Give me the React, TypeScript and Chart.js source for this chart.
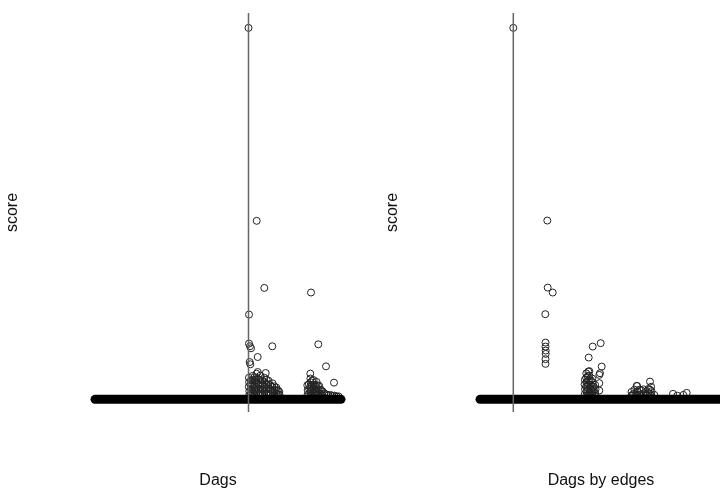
import React, { useEffect, useRef } from "react";
import { Chart, registerables } from "chart.js";
Chart.register(...registerables);

// shared score axis limits
const Y_MIN = -3.4;
const Y_MAX = 104;

// ---------- Left panel: "Dags" ----------
const dagsRange = [-16.35, 10.25];
const dagsZeroBand = [-15.35, 9.25]; // x-extent of the dense score = 0 band
const dagsX = [
  0, 0.82, 1.58, 6.25, 0.05, 6.98, 0.05, 0.15, 2.38, 0.25, 0.92, 0.12, 0.18, 7.75, 6.18, 0.92, 1.72, 8.55,
  0.05, 0.08, 0.03, 0.06, 0.04,
  0.4, 0.42, 0.38, 0.41, 0.39,
  0.8, 0.82, 0.78, 0.81, 0.79, 0.8,
  1.2, 1.22, 1.18, 1.21, 1.19,
  1.6, 1.62, 1.58, 1.61, 1.59,
  2.0, 2.02, 1.98, 2.01,
  2.4, 2.42, 2.38, 2.41,
  2.8, 2.82, 2.78,
  3.1, 3.08,
  0.22, 0.25, 0.2, 0.24, 0.6, 0.62, 0.58, 0.61, 0.59, 1.0, 1.02, 0.98, 1.01, 1.4, 1.42, 1.38, 1.41,
  1.8, 1.82, 1.78, 1.81, 2.2, 2.22, 2.18, 2.6, 2.62, 2.58, 2.95, 2.97,
  5.9, 5.92, 5.88,
  6.2, 6.22, 6.18, 6.21, 6.19,
  6.5, 6.52, 6.48, 6.51,
  6.8, 6.82, 6.78, 6.81,
  7.1, 7.12, 7.08,
  7.4, 7.42,
  6.05, 6.07, 6.03, 6.35, 6.37, 6.33, 6.36, 6.65, 6.67, 6.63, 6.95, 6.97, 6.93, 7.25, 7.27,
  7.6, 7.8, 8.0, 8.2, 8.4, 8.6, 8.8, 9.0,
];
const dagsY = [
  100, 48.06, 30.0, 28.76, 22.83, 14.82, 15.01, 14.29, 14.29, 13.75, 11.4, 10.05, 9.43, 8.89, 6.93, 7.36, 7.09, 4.5,
  1.0, 2.2, 3.4, 4.6, 5.8,
  1.6, 2.8, 4.0, 5.2, 6.3,
  1.0, 2.2, 3.4, 4.6, 5.8, 6.9,
  1.6, 2.8, 4.0, 5.2, 6.4,
  1.0, 2.2, 3.4, 4.6, 5.8,
  1.6, 2.8, 4.0, 5.0,
  1.0, 2.2, 3.3, 4.3,
  1.4, 2.5, 3.2,
  1.2, 2.0,
  1.4, 2.6, 3.9, 5.1, 1.1, 2.3, 3.6, 4.9, 6.0, 1.5, 2.9, 4.2, 5.4, 1.2, 2.5, 3.8, 5.0,
  1.6, 2.9, 4.1, 5.3, 1.3, 2.6, 3.8, 1.1, 2.4, 3.5, 1.4, 2.4,
  1.2, 2.5, 3.8,
  1.0, 2.2, 3.4, 4.6, 5.6,
  1.6, 2.8, 4.0, 5.2,
  1.0, 2.2, 3.4, 4.7,
  1.5, 2.6, 3.6,
  1.1, 2.1,
  1.5, 2.8, 4.1, 1.2, 2.5, 3.8, 5.0, 1.4, 2.7, 3.9, 1.2, 2.6, 3.8, 1.3, 2.5,
  1.6, 1.3, 1.1, 1.2, 0.9, 1.0, 0.8, 0.8,
];

// ---------- Right panel: "Dags by edges" ----------
const edgesRange = [-4.33, 21.87];
const edgesZeroBand = [-3.33, 20.87];
const edgesX = [
  0, 3.4, 3.44, 3.94, 3.2, 3.22, 3.22, 3.24, 3.24, 3.22, 3.22, 7.94, 8.74, 7.54, 8.84, 8.6, 7.5, 8.67, 8.6, 8.6, 13.67, 12.34,
  7.3, 7.32, 7.28, 7.31, 7.29, 7.3,
  7.6, 7.62, 7.58, 7.61, 7.59, 7.6,
  7.9, 7.92, 7.88, 7.91, 7.89,
  8.2, 8.22, 8.18,
  7.15, 7.17, 7.13, 7.16, 7.45, 7.47, 7.43, 7.46, 7.44, 7.75, 7.77, 7.73, 7.76, 8.05, 8.07, 8.03,
  11.8, 11.82,
  12.1, 12.12,
  12.4, 12.42, 12.38,
  12.8, 12.82,
  13.2, 13.22,
  13.5, 13.52,
  13.8, 13.82, 13.78,
  14.1,
  11.95, 12.25, 12.6, 12.62, 13.0, 13.02, 13.35, 13.65, 13.67,
  15.97, 16.4, 17.0, 17.34,
];
const edgesY = [
  100, 48.13, 30.09, 28.75, 22.93, 15.29, 14.21, 13.14, 12.25, 10.82, 9.56, 14.21, 15.13, 11.25, 8.83, 6.59, 7.48, 7.05, 4.36, 2.37, 4.79, 3.63,
  1.0, 2.2, 3.4, 4.6, 5.8, 7.0,
  1.6, 2.8, 4.0, 5.2, 6.4, 7.6,
  1.0, 2.2, 3.4, 4.6, 5.6,
  1.5, 2.7, 3.9,
  1.4, 2.7, 4.0, 5.3, 1.1, 2.4, 3.7, 5.0, 6.2, 1.3, 2.6, 3.9, 5.1, 1.2, 2.4, 3.4,
  1.0, 2.0,
  1.5, 2.6,
  1.0, 2.2, 3.6,
  1.4, 2.4,
  1.0, 2.0,
  1.6, 2.8,
  1.0, 2.2, 3.4,
  1.2,
  1.3, 1.2, 1.2, 2.6, 1.5, 2.7, 1.1, 1.4, 2.6,
  1.48, 1.0, 1.2, 1.75,
];

const FONT = { family: "'Liberation Sans', Arial, Helvetica, sans-serif", size: 16 };

type PanelProps = {
  title: string;
  xs: number[];
  ys: number[];
  band: number[];
  range: number[];
  left: number;
  width: number;
  yAxisWidth: number;
  rightPad: number;
};

function Panel({ title, xs, ys, band, range, left, width, yAxisWidth, rightPad }: PanelProps) {
  const ref = useRef<HTMLCanvasElement | null>(null);
  useEffect(() => {
    if (!ref.current) return;
    const pts = xs.map((x, i) => ({ x, y: ys[i] }));
    const chart = new Chart(ref.current, {
      type: "scatter",
      data: {
        datasets: [
          {
            data: [
              { x: 0, y: Y_MIN },
              { x: 0, y: Y_MAX },
            ],
            showLine: true,
            borderColor: "#666",
            borderWidth: 1.5,
            pointRadius: 0,
          },
          {
            data: [
              { x: band[0], y: 0 },
              { x: band[1], y: 0 },
            ],
            showLine: true,
            borderColor: "#000",
            borderWidth: 9,
            borderCapStyle: "round",
            pointRadius: 0,
          },
          {
            data: pts,
            pointRadius: 3.5,
            pointBorderWidth: 1,
            pointBorderColor: "#222",
            pointBackgroundColor: "rgba(0,0,0,0)",
            showLine: false,
          },
        ],
      },
      options: {
        responsive: false,
        animation: false,
        events: [],
        layout: { padding: { top: 13, right: rightPad, left: 0, bottom: 0 } },
        plugins: { legend: { display: false }, tooltip: { enabled: false } },
        scales: {
          x: {
            type: "linear",
            min: range[0],
            max: range[1],
            grid: { display: false },
            border: { display: false },
            ticks: { display: false },
            title: { display: true, text: title, color: "#111", font: FONT, padding: { top: 0, bottom: 3 } },
            afterFit: (s: any) => {
              s.height = 81;
            },
          },
          y: {
            type: "linear",
            min: Y_MIN,
            max: Y_MAX,
            grid: { display: false },
            border: { display: false },
            ticks: { display: false },
            title: { display: true, text: "score", color: "#111", font: FONT, padding: { top: 3, bottom: 0 } },
            afterFit: (s: any) => {
              s.width = yAxisWidth;
            },
          },
        },
      },
    } as any);
    return () => chart.destroy();
  }, []);
  return (
    <canvas
      ref={ref}
      width={width}
      height={493}
      style={{ position: "absolute", left, top: 0, width, height: 493 }}
    />
  );
}

export default function App() {
  return (
    <div
      style={{
        position: "fixed",
        left: 0,
        top: 0,
        width: 720,
        height: 493,
        overflow: "hidden",
        background: "#fff",
      }}
    >
      <Panel title="Dags" xs={dagsX} ys={dagsY} band={dagsZeroBand} range={dagsRange} left={0} width={380} yAxisWidth={85} rightPad={29} />
      <Panel title="Dags by edges" xs={edgesX} ys={edgesY} band={edgesZeroBand} range={edgesRange} left={380} width={360} yAxisWidth={90} rightPad={8} />
    </div>
  );
}
